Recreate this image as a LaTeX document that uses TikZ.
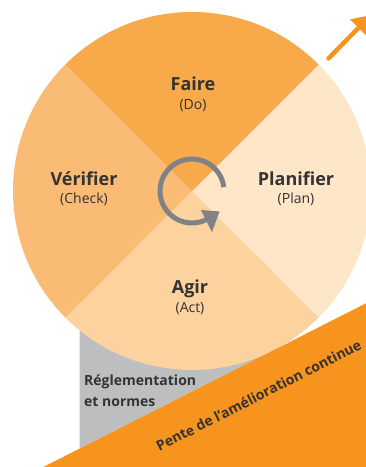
\documentclass[tikz,border=0pt]{standalone}
\usepackage{fontspec}
\setmainfont{Open Sans}
\definecolor{cFaire}{HTML}{F8A94A}
\definecolor{cVerif}{HTML}{FABC74}
\definecolor{cAgir}{HTML}{FCD39F}
\definecolor{cPlan}{HTML}{FEE6C8}
\definecolor{cSlope}{HTML}{F7941E}
\definecolor{cGrey}{HTML}{BCBEC0}
\definecolor{cArrow}{HTML}{808285}
\definecolor{cText}{HTML}{333333}
\tikzset{
  mainlab/.style={inner sep=0pt, anchor=base, text=cText, font=\fontsize{18}{20}\selectfont\bfseries},
  sublab/.style={inner sep=0pt, anchor=base, text=cText, font=\fontsize{14}{16}\selectfont},
  greylab/.style={inner sep=0pt, anchor=base west, text=cText, font=\fontsize{14}{16}\selectfont\bfseries},
  slopelab/.style={inner sep=0pt, anchor=base, text=cText, font=\fontsize{14}{16}\selectfont\bfseries},
}
\begin{document}
\begin{tikzpicture}[x=1pt,y=-1pt]
\useasboundingbox (0,0) rectangle (366,467);
\clip (0,0) rectangle (366,467);
\coordinate (O) at (192,191);
% grey wedge (regulation)
\fill[cGrey] (79.5,250) -- (79.5,448.6) -- (273,350.5) -- (273,250) -- cycle;
% PDCA wheel
\fill[cPlan]  (O) -- +(-45:179) arc[start angle=-45, end angle=45, radius=179] -- cycle;
\fill[cAgir]  (O) -- +(45:179)  arc[start angle=45, end angle=135, radius=179] -- cycle;
\fill[cVerif] (O) -- +(135:179) arc[start angle=135, end angle=225, radius=179] -- cycle;
\fill[cFaire] (O) -- +(225:179) arc[start angle=225, end angle=315, radius=179] -- cycle;
% slope
\fill[cSlope] (43.3,467) -- (366,303.3) -- (366,467) -- cycle;
% central rotation arrow
\draw[cArrow, line width=5] (O) ++(-7:32) arc[start angle=-7, end angle=-298, radius=32];
\fill[cArrow] (201,210) -- (219.5,211.5) -- (212,232) -- cycle;
% top-right arrow
\coordinate (a0) at (328.5,58.5);
\coordinate (a1) at (358.5,27.8);
\draw[cSlope, line width=4.5, line cap=round] (a0) -- (a1);
\fill[cSlope] (350,19.3) -- (367,36.3) -- (371.2,15.1) -- cycle;
% labels
\node[mainlab] (faire) at (193,90) {Faire};
\node[sublab] (do) at (193,109) {(Do)};
\node[mainlab] (verif) at (84,185) {Vérifier};
\node[sublab] (check) at (84,203) {(Check)};
\node[mainlab] (plan) at (296,185) {Planifier};
\node[sublab] (planen) at (296,203) {(Plan)};
\node[mainlab] (agir) at (190,293) {Agir};
\node[sublab] (act) at (190,312) {(Act)};
\node[greylab] (regl) at (84,385) {Réglementation};
\node[greylab] (norm) at (84,406) {et normes};
\node[slopelab, rotate=27] (pente) at (261,400) {Pente de l’amélioration continue};
\end{tikzpicture}
\end{document}
